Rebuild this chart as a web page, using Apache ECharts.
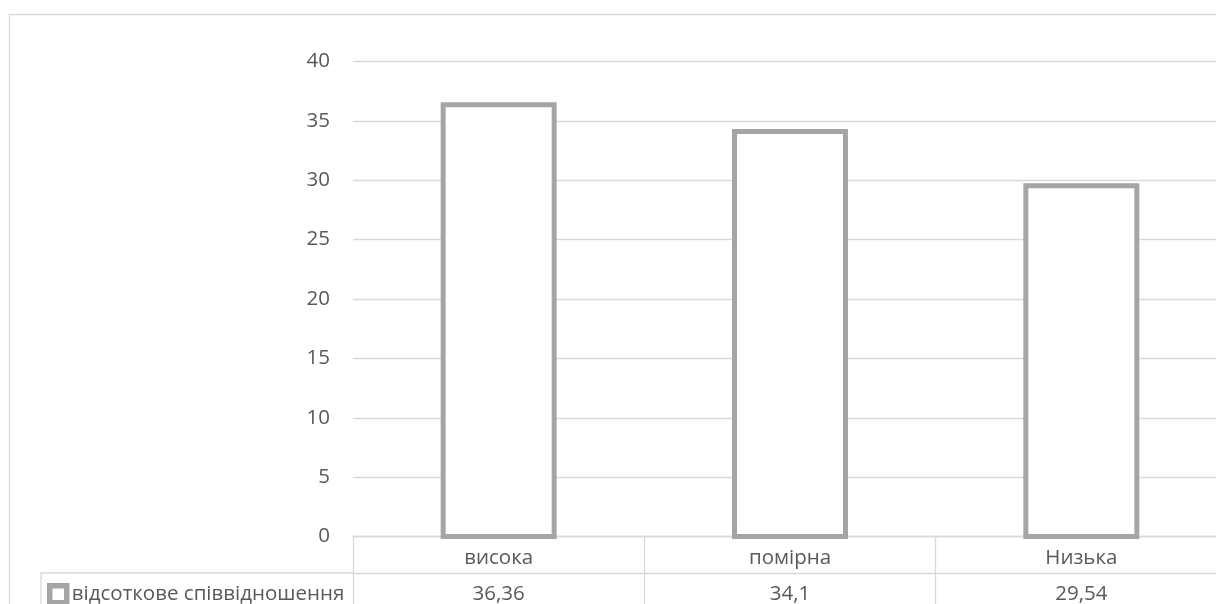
<!DOCTYPE html>
<html>
<head>
<meta charset="utf-8">
<script src="https://cdn.jsdelivr.net/npm/echarts@6/dist/echarts.min.js"></script>
<style>
  html, body { margin: 0; padding: 0; overflow: hidden; background: #fff; }
  #chart { width: 1240px; height: 640px; }
</style>
</head>
<body>
<div id="chart"></div>
<script>
// Рівні та відсоткове співвідношення
const categories = ['висока', 'помірна', 'Низька'];
const seriesName = 'відсоткове співвідношення';
const values = [36.36, 34.1, 29.54];
const yTicks = [0, 5, 10, 15, 20, 25, 30, 35, 40];

const GRID = '#d9d9d9';
const TEXT = '#595959';
const BAR = '#a5a5a5';
const FONT = '"Open Sans", "Noto Sans", sans-serif';
const FS = 20.5;
const BAR_RATIO = 0.381;

const fmt = v => String(v).replace('.', ',');

const chart = echarts.init(document.getElementById('chart'), null, { renderer: 'canvas' });

// Hollow column: outline centred on the value edge
function renderColumn(params, api) {
  const top = api.coord([api.value(0), api.value(1)]);
  const base = api.coord([api.value(0), 0]);
  const w = api.size([1, 0])[0] * BAR_RATIO;
  return {
    type: 'rect',
    shape: { x: top[0] - w / 2, y: top[1], width: w, height: base[1] - top[1] },
    style: { fill: '#fff', stroke: BAR, lineWidth: 5 }
  };
}

chart.setOption({
  animation: false,
  backgroundColor: '#fff',
  textStyle: { fontFamily: FONT },
  grid: { left: 353, top: 61.5, width: 874, height: 475, containLabel: false },
  legend: {
    show: true,
    left: 42,
    top: 578,
    itemWidth: 17,
    itemHeight: 17,
    itemGap: 6,
    icon: 'rect',
    itemStyle: { color: '#fff', borderColor: BAR, borderWidth: 5.5 },
    textStyle: { color: TEXT, fontSize: FS, fontFamily: FONT, padding: [0, 0, 0, 0] },
    data: [seriesName]
  },
  xAxis: [
    {
      type: 'category',
      data: categories,
      position: 'bottom',
      axisLine: { show: true, lineStyle: { color: GRID, width: 1.3 } },
      axisTick: { show: true, length: 100, lineStyle: { color: GRID, width: 1.3 } },
      axisLabel: { color: TEXT, fontSize: FS, fontFamily: FONT, margin: 11 },
      splitLine: { show: false }
    },
    {
      type: 'category',
      data: categories,
      position: 'bottom',
      offset: 36.5,
      axisLine: { show: true, lineStyle: { color: GRID, width: 1.3 } },
      axisTick: { show: false },
      axisLabel: {
        color: TEXT, fontSize: FS, fontFamily: FONT, margin: 11,
        formatter: (v, i) => fmt(values[i])
      },
      splitLine: { show: false }
    }
  ],
  yAxis: {
    type: 'value',
    min: yTicks[0],
    max: yTicks[yTicks.length - 1],
    interval: yTicks[1] - yTicks[0],
    axisLine: { show: false },
    axisTick: { show: false },
    axisLabel: { color: TEXT, fontSize: FS, fontFamily: FONT, margin: 23 },
    splitLine: { show: true, lineStyle: { color: GRID, width: 1.3 } }
  },
  series: [
    {
      name: seriesName,
      type: 'custom',
      xAxisIndex: 0,
      renderItem: renderColumn,
      encode: { x: 0, y: 1 },
      data: values.map((v, i) => [i, v]),
      itemStyle: { color: '#fff', borderColor: BAR, borderWidth: 5 },
      emphasis: { disabled: true }
    }
  ],
  graphic: [
    {
      type: 'rect',
      silent: true,
      z: -1,
      shape: { x: 9.5, y: 14.5, width: 1400, height: 800 },
      style: { fill: null, stroke: GRID, lineWidth: 1.3 }
    },
    {
      type: 'polyline',
      silent: true,
      shape: { points: [[41, 800], [41, 573], [353, 573]] },
      style: { fill: null, stroke: GRID, lineWidth: 1.3 }
    }
  ]
});
</script>
</body>
</html>
